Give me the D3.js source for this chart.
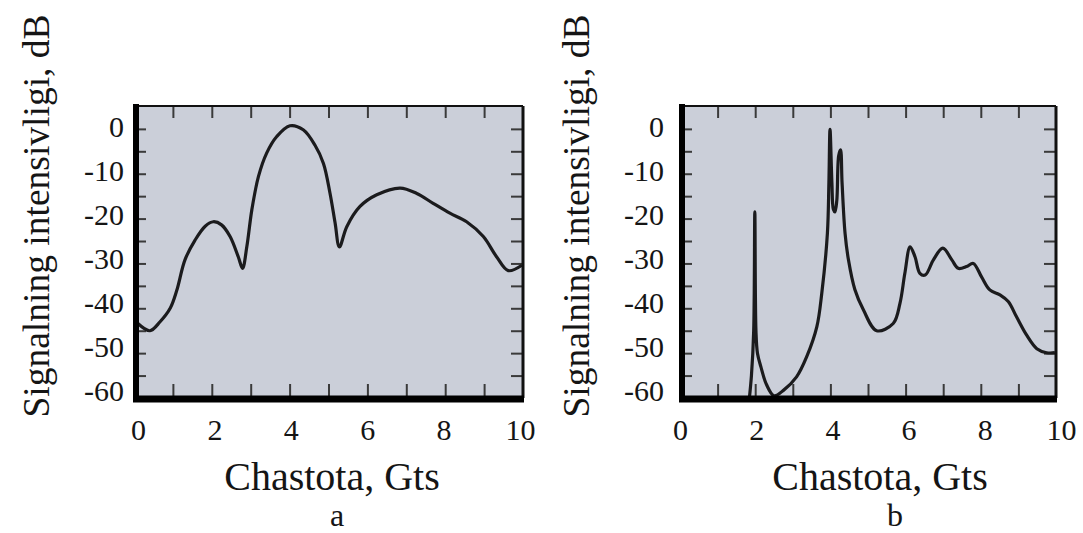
<!DOCTYPE html>
<html>
<head>
<meta charset="utf-8">
<script src="https://cdn.jsdelivr.net/npm/d3@7"></script>
<style>
  body { margin: 0; background: #fff; }
  text { font-family: "Liberation Serif", "Times New Roman", serif; fill: #151515; }
</style>
</head>
<body>
<script>
// panel a: smooth spectrum
var freqA = [0.10, 0.41, 0.67, 0.93, 1.10, 1.31, 1.57, 1.83, 2.04, 2.25, 2.47, 2.68, 2.79, 2.90, 3.03, 3.20,
             3.41, 3.67, 4.01, 4.35, 4.65, 4.87, 5.04, 5.17, 5.28, 5.47, 5.81, 6.24, 6.84, 7.27, 7.69, 8.12,
             8.55, 8.98, 9.32, 9.62, 9.97];
var levelA = [-43.4, -45, -43, -40, -36, -29.2, -24.8, -21.7, -20.7, -21.4, -24, -28.5, -31.1, -26.3, -18, -10.6,
              -5.4, -1.7, 0.7, -0.2, -3.6, -7.7, -14.4, -21, -26.3, -21.8, -17.3, -14.7, -13.2, -14.4, -16.6, -18.8,
              -20.7, -24, -28.5, -31.6, -30.4];

// panel b: resonant spectrum
var freqB = [1.82, 1.90, 1.96, 1.99, 2.02, 2.06, 2.15, 2.30, 2.50, 2.75, 3.10, 3.37, 3.64, 3.77, 3.92, 3.96,
             3.99, 4.04, 4.08, 4.12, 4.17, 4.22, 4.27, 4.31, 4.39, 4.48, 4.65, 4.88, 5.23, 5.67, 5.85, 5.98,
             6.12, 6.25, 6.38, 6.52, 6.74, 6.99, 7.23, 7.40, 7.62, 7.80, 8.02, 8.24, 8.51, 8.73, 8.95, 9.22,
             9.49, 9.75, 9.97];
var levelB = [-62, -55, -45, -18.5, -45, -50, -53, -57, -59.5, -58.3, -55.3, -50.8, -44.1, -36.7, -23.3, -12,
              -0.1, -12, -18, -18.5, -16, -6, -4.7, -12, -23.3, -29.2, -35.8, -40.4, -45, -43.4, -38.9, -32.2,
              -26.3, -28.5, -32.2, -32.6, -29.2, -26.6, -29.2, -31.1, -30.7, -30, -33, -35.9, -37, -38.5, -41.9, -46,
              -49, -49.9, -49.9];

var xLabels = [0, 2, 4, 6, 8, 10];
var xMinor = [1, 2, 3, 4, 5, 6, 7, 8, 9];
var yLabels = [0, -10, -20, -30, -40, -50, -60];
var yMinor = [0, -5, -10, -15, -20, -25, -30, -35, -40, -45, -50, -55];
var panelNames = ["a", "b"];

var xTitle = "Chastota, Gts";
var yTitle = "Signalning intensivligi, dB";

var svg = d3.select("body").append("svg")
    .attr("width", 1083)
    .attr("height", 533);

var layout = [
  {freq: freqA, level: levelA, left: 134, right: 523, lab0: 138, lab1: 520, yLabX: 124, yTitleX: 49, xTitleX: 332, nameX: 337},
  {freq: freqB, level: levelB, left: 680, right: 1056, lab0: 680, lab1: 1061, yLabX: 664, yTitleX: 589, xTitleX: 880, nameX: 895}
];

var plotTop = 106, plotBottom = 398;

// plain hyphen, as printed
var fmt = function(d) { return String(d); };

layout.forEach(function(p, i) {

  var x = d3.scaleLinear().domain([0, 10]).range([p.left, p.right]);
  var y = d3.scaleLinear().domain([-60, 5.1]).range([plotBottom, plotTop]);
  // printed labels sit slightly off the tick marks in the original
  var xl = d3.scaleLinear().domain([0, 10]).range([p.lab0, p.lab1]);
  var yl = d3.scaleLinear().domain([-60, 0]).range([390, 126]);

  var g = svg.append("g").attr("class", "panel " + panelNames[i]);

  g.append("rect")
      .attr("x", x(0))
      .attr("y", plotTop)
      .attr("width", x(10) - x(0))
      .attr("height", plotBottom - plotTop)
      .attr("fill", "#cbcfd9");

  g.append("clipPath")
      .attr("id", "clip" + i)
    .append("rect")
      .attr("x", x(0))
      .attr("y", plotTop)
      .attr("width", x(10) - x(0))
      .attr("height", plotBottom - plotTop);

  // inward tick marks on all four sides
  var tickStyle = function(sel) {
    sel.select(".domain").remove();
    sel.selectAll("line").attr("stroke", "#3a3a3a").attr("stroke-width", 2);
  };

  g.append("g")
      .attr("transform", "translate(0," + plotTop + ")")
      .call(d3.axisTop(x).tickValues(xMinor).tickSize(-12).tickFormat(""))
      .call(tickStyle);

  g.append("g")
      .attr("transform", "translate(0," + plotBottom + ")")
      .call(d3.axisBottom(x).tickValues(xMinor).tickSize(-14).tickFormat(""))
      .call(tickStyle);

  g.append("g")
      .attr("transform", "translate(" + x(0) + ",0)")
      .call(d3.axisLeft(y).tickValues(yMinor).tickSize(-12).tickFormat(""))
      .call(tickStyle);

  g.append("g")
      .attr("transform", "translate(" + x(10) + ",0)")
      .call(d3.axisRight(y).tickValues(yMinor).tickSize(-12).tickFormat(""))
      .call(tickStyle);

  var line = d3.line()
      .x(function(d) { return x(d[0]); })
      .y(function(d) { return y(d[1]); })
      .curve(d3.curveCatmullRom.alpha(0.5));

  g.append("path")
      .datum(d3.zip(p.freq, p.level))
      .attr("clip-path", "url(#clip" + i + ")")
      .attr("fill", "none")
      .attr("stroke", "#1b1b1d")
      .attr("stroke-width", 3.2)
      .attr("stroke-linejoin", "round")
      .attr("d", line);

  // frame: thin top/right, heavy left/bottom
  g.append("line")
      .attr("x1", x(0)).attr("x2", x(10))
      .attr("y1", plotTop).attr("y2", plotTop)
      .attr("stroke", "#111").attr("stroke-width", 2);
  g.append("line")
      .attr("x1", x(10)).attr("x2", x(10))
      .attr("y1", plotTop).attr("y2", plotBottom)
      .attr("stroke", "#111").attr("stroke-width", 3);
  g.append("line")
      .attr("x1", x(0) + 2).attr("x2", x(0) + 2)
      .attr("y1", plotTop - 2).attr("y2", plotBottom + 3)
      .attr("stroke", "#000").attr("stroke-width", 6);
  g.append("line")
      .attr("x1", x(0) - 1).attr("x2", x(10) + 1)
      .attr("y1", plotBottom + 1).attr("y2", plotBottom + 1)
      .attr("stroke", "#000").attr("stroke-width", 7);

  // tick labels
  g.append("g")
      .attr("transform", "translate(0,429)")
      .call(d3.axisBottom(xl).tickValues(xLabels).tickSize(0).tickFormat(fmt))
      .call(function(sel) {
        sel.select(".domain").remove();
        sel.attr("font-size", null).attr("font-family", null);
        sel.selectAll("text")
          .attr("y", 0)
          .attr("dy", "0.35em")
          .style("font-size", "30px")
          .style("fill", "#151515");
      });

  g.append("g")
      .attr("transform", "translate(" + p.yLabX + ",0)")
      .call(d3.axisLeft(yl).tickValues(yLabels).tickSize(0).tickFormat(fmt))
      .call(function(sel) {
        sel.select(".domain").remove();
        sel.attr("font-size", null).attr("font-family", null);
        sel.selectAll("text")
          .attr("x", 0)
          .attr("dy", "0.35em")
          .style("font-size", "30px")
          .style("fill", "#151515");
      });

  g.append("text")
      .attr("x", p.xTitleX)
      .attr("y", 490)
      .style("text-anchor", "middle")
      .style("font-size", "40px")
      .text(xTitle);

  g.append("text")
      .attr("transform", "translate(" + p.yTitleX + ",216) rotate(-90)")
      .style("text-anchor", "middle")
      .style("font-size", "37.5px")
      .text(yTitle);

  g.append("text")
      .attr("x", p.nameX)
      .attr("y", 526)
      .style("text-anchor", "middle")
      .style("font-size", "32px")
      .text(panelNames[i]);
});
</script>
</body>
</html>
